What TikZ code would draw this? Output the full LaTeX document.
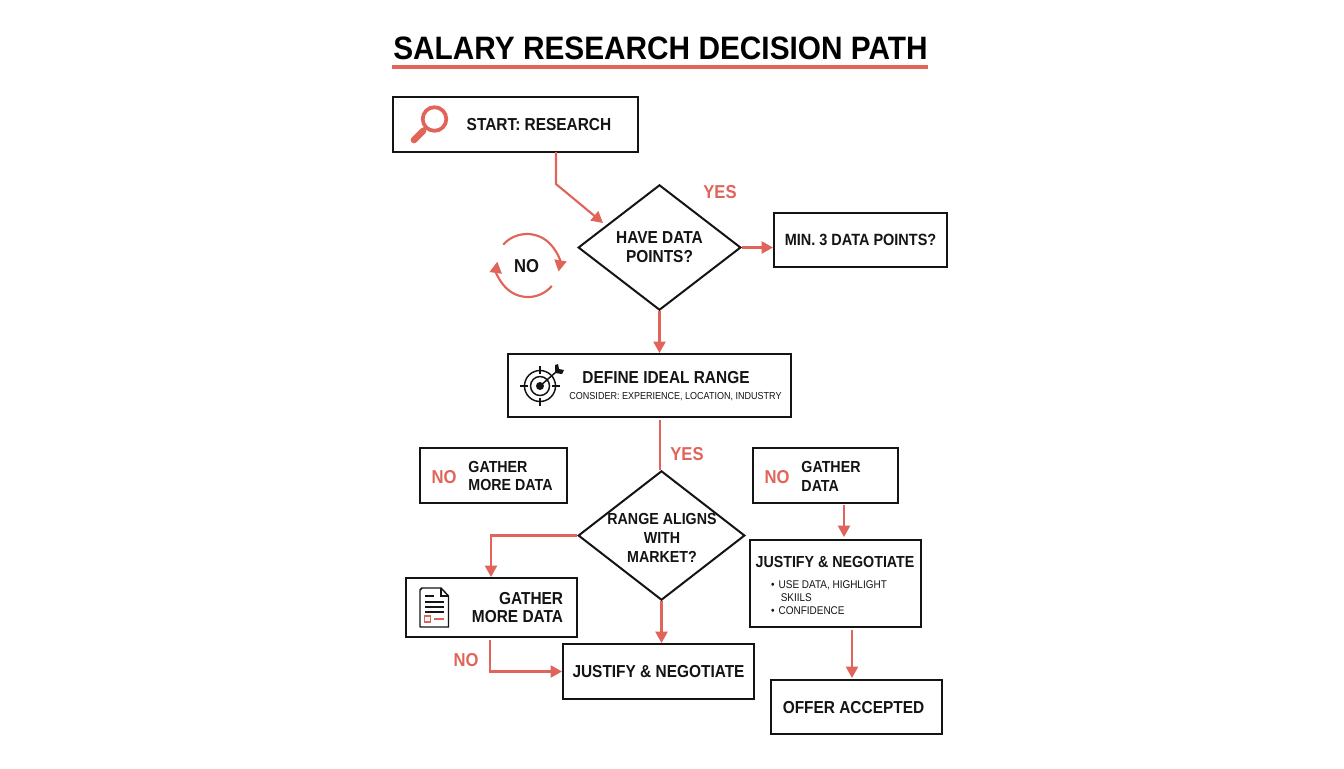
\documentclass[tikz,border=0pt]{standalone}
\usepackage{fontspec}
\setmainfont{Liberation Sans}[FakeStretch=0.89]
\newfontfamily\titlefont{Liberation Sans}[FakeStretch=0.92]
\usetikzlibrary{arrows.meta,shapes.geometric}
\definecolor{flowred}{HTML}{E0645A}
\definecolor{ink}{HTML}{141414}
\tikzset{
  box/.style={draw=ink,line width=1.5pt,rectangle,inner sep=0pt,align=center,text=ink,font=\bfseries\fontsize{13}{14.2}\selectfont},
  choice/.style={box,diamond,aspect=1.3},
  boxtext/.style={inner sep=0pt,text=ink,font=\bfseries\fontsize{13}{14.2}\selectfont},
  lesstext/.style={boxtext,font=\bfseries\fontsize{12}{14.2}\selectfont},
  smalltext/.style={inner sep=0pt,text=ink,font=\fontsize{8.4}{10}\selectfont},
  answer/.style={inner sep=0pt,text=flowred,font=\bfseries\fontsize{14}{16}\selectfont},
  flow/.style={draw=flowred,line width=1.6pt,-{Triangle[length=8.5pt,width=9pt]}},
  flowplain/.style={draw=flowred,line width=1.6pt},
  iconline/.style={draw=ink,line width=1.1pt}
}
\begin{document}
\begin{tikzpicture}[x=0.75pt,y=0.75pt]
\useasboundingbox (0,0) rectangle (1344,-768);
\fill[white] (0,0) rectangle (1344,-768);
% title
\node[inner sep=0pt,text=black,font=\titlefont\bfseries\fontsize{24.3}{28}\selectfont] (title) at (660.5,-48) {SALARY RESEARCH DECISION PATH};
\draw[flowred,line width=2.4pt] (392,-67) -- (928,-67);
% boxes
\node[box,minimum width=183.75pt,minimum height=41.25pt] (start) at (515.5,-124.5) {};
\node[boxtext] (starttxt) at (539,-125) {START: RESEARCH};
\node[choice,minimum width=122pt,minimum height=94pt] (havedata) at (659.5,-247.5) {HAVE DATA\\POINTS?};
\node[box,minimum width=129.75pt,minimum height=40.5pt,font=\bfseries\fontsize{12.2}{14}\selectfont] (minthree) at (860.5,-240) {MIN. 3 DATA POINTS?};
\node[box,minimum width=212.25pt,minimum height=47.25pt] (define) at (649.5,-385.5) {};
\node[boxtext] (definetxt) at (666,-378) {DEFINE IDEAL RANGE};
\node[smalltext,font=\fontsize{7.6}{9}\selectfont] (considertxt) at (675.5,-397) {CONSIDER: EXPERIENCE, LOCATION, INDUSTRY};
\node[box,minimum width=110.25pt,minimum height=41.25pt] (gatherleft) at (493.5,-475.5) {};
\node[answer] (noleft) at (444,-477) {NO};
\node[lesstext,align=left] (gatherlefttxt) at (510.5,-476) {GATHER\\MORE DATA};
\node[box,minimum width=108.75pt,minimum height=41.25pt] (gatherright) at (825.5,-475.5) {};
\node[answer] (noright) at (777,-477) {NO};
\node[lesstext,align=left] (gatherrighttxt) at (831,-476) {GATHER\\DATA};
\node[choice,minimum width=125pt,minimum height=97pt] (aligns) at (661.5,-535.5) {};
\node[lesstext,align=center] (alignstxt) at (662,-538) {RANGE ALIGNS\\WITH\\MARKET?};
\node[box,minimum width=128.25pt,minimum height=44.25pt] (gathermore) at (491.5,-607.5) {};
\node[boxtext,align=right] (gathermoretxt) at (517.5,-607.5) {GATHER\\MORE DATA};
\node[box,minimum width=143.25pt,minimum height=41.25pt] (justify) at (658.5,-671.5) {JUSTIFY \& NEGOTIATE};
\node[box,minimum width=128.25pt,minimum height=65.25pt] (justifyright) at (835.5,-583.5) {};
\node[lesstext] (justifytxt) at (835,-562) {JUSTIFY \& NEGOTIATE};
\node[smalltext,align=left] (skillstxt) at (829,-597.5) {\textbullet\hspace{3pt}USE DATA, HIGHLIGHT\\\hspace{7.2pt}SKIILS\\\textbullet\hspace{3pt}CONFIDENCE};
\node[box,minimum width=128.25pt,minimum height=40.5pt] (offer) at (856.5,-707) {};
\node[boxtext] (offertxt) at (853.5,-708) {OFFER ACCEPTED};
% answers
\node[answer] (yesone) at (720,-192) {YES};
\node[answer] (yestwo) at (687,-454) {YES};
\node[answer] (nobelow) at (466,-660) {NO};
\node[boxtext,font=\bfseries\fontsize{14}{16}\selectfont] (noloop) at (526.5,-266) {NO};
% connectors
\coordinate (startout) at (556,-152);
\coordinate (startbend) at (556,-184);
\coordinate (havein) at (603,-223);
\draw[flow] (startout) -- (startbend) -- (havein);
\draw[flow] (havedata.east) -- (havedata.east -| minthree.west);
\draw[flow] (havedata.south) -- (define.north -| havedata.south);
\coordinate (defineout) at (660,-420);
\draw[flowplain] (defineout) -- (defineout |- aligns.north);
\coordinate (gathermorein) at (491,-577);
\draw[flow] (aligns.west) -| (gathermorein);
\draw[flow] (aligns.south) -- (justify.north -| aligns.south);
\coordinate (belowout) at (490,-640);
\draw[flow] (belowout) |- (justify.west);
\coordinate (rightout) at (844,-505);
\coordinate (rightin) at (844,-537);
\draw[flow] (rightout) -- (rightin);
\coordinate (justout) at (852,-630);
\coordinate (offerin) at (852,-678);
\draw[flow] (justout) -- (offerin);
% loop round the no
\draw[flow] (527,-266) ++(138:32) arc (138:-10:32);
\draw[flow] (528,-266) ++(-40:31) arc (-40:-188:31);
% magnifier
\draw[flowred,line width=2.8pt] (434.5,-119) circle (11.8);
\draw[flowred,line width=2.8pt] (426,-127.5) -- (422,-131.5);
\draw[flowred,line width=5pt,line cap=round] (423,-131) -- (414,-140);
% target
\draw[iconline] (540,-386) circle (15.5);
\draw[iconline] (540,-386) circle (9.5);
\fill[ink] (540,-386) circle (4);
\foreach \a in {0,90,180,270}{
  \draw[iconline] (540,-386) ++(\a:12) -- ++(\a:8);
}
\draw[iconline] (540,-386) -- (556,-372);
\fill[ink] (555,-373) -- (555,-365) -- (558,-364) -- (559,-369) -- (564,-370) -- (562,-374) -- cycle;
% document
\draw[iconline,line join=round] (422,-588) -- (441,-588) -- (448.5,-596) -- (448.5,-627) -- (420,-627) -- (420,-590) -- cycle;
\draw[iconline] (441,-588) -- (441,-596) -- (448.5,-596);
\draw[iconline] (425,-596) -- (434,-596);
\foreach \yy in {-602,-607,-612}{
  \draw[iconline] (425,\yy) -- (444,\yy);
}
\draw[flowred,line width=1.1pt] (424.5,-616) rectangle (430.5,-622);
\draw[flowred,line width=1.3pt] (434,-619) -- (444,-619);
\end{tikzpicture}
\end{document}
